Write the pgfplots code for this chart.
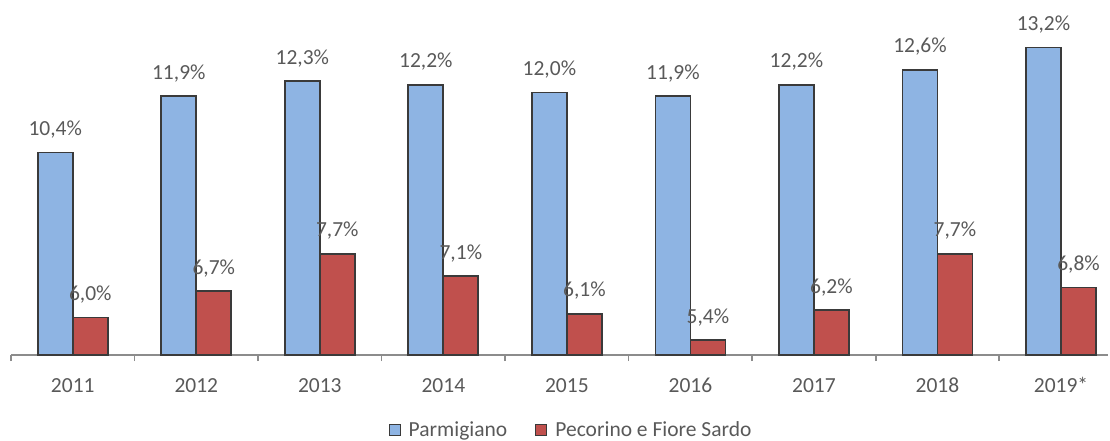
\documentclass[border=0pt]{standalone}
\usepackage{pgfplots}
\pgfplotsset{compat=1.18}
\usepackage{fontspec}
\setmainfont{Carlito}
\definecolor{pblue}{HTML}{8EB4E3}
\definecolor{pred}{HTML}{C0504D}
\definecolor{txt}{HTML}{595959}
\definecolor{brd}{HTML}{3A3A3A}
\definecolor{axc}{HTML}{8C8C8C}
\begin{document}
\begin{tikzpicture}
\begin{axis}[
  name=ax,
  scale only axis,
  width=1097bp, height=352.5bp,
  ybar=0pt, bar width=35bp,
  xmin=-0.5, xmax=8.38,
  ymin=5, ymax=14.4,
  clip=false,
  axis y line=none,
  axis x line*=bottom,
  x axis line style={draw=axc, line width=1.6bp, -},
  xtick={0,...,8},
  xticklabels={2011,2012,2013,2014,2015,2016,2017,2018,2019*},
  major x tick style={draw=none},
  minor xtick={-0.5,0.5,...,7.5},
  minor x tick style={draw=axc, line width=1.6bp},
  minor tick length=6bp,
  tick align=outside,
  xticklabel style={anchor=base, yshift=-33bp, font=\fontsize{21.5bp}{25bp}\selectfont, text=txt},
  /pgf/number format/assume math mode=true,
  nodes near coords={\pgfmathprintnumber[fixed,fixed zerofill,precision=1,use comma]{\pgfplotspointmeta}\%},
  every node near coord/.append style={anchor=base, yshift=17bp, font=\fontsize{21.5bp}{25bp}\selectfont, text=txt},
  legend style={draw=none, fill=none, at={(rel axis cs:0.5105,0)}, anchor=center, yshift=-75bp,
    font=\fontsize{21.5bp}{25bp}\selectfont, text=txt, legend columns=-1,
    /tikz/every odd column/.append style={column sep=6bp},
    /tikz/every even column/.append style={column sep=26bp}},
  legend image code/.code={\draw[#1, line width=1.2bp] (0bp,-5.5bp) rectangle (11bp,5.5bp);},
]
\addplot[fill=pblue, draw=brd, line width=1.8bp] coordinates {(0,10.4) (1,11.9) (2,12.3) (3,12.2) (4,12.0) (5,11.9) (6,12.2) (7,12.6) (8,13.2)};
\addplot[fill=pred, draw=brd, line width=1.8bp] coordinates {(0,6.0) (1,6.7) (2,7.7) (3,7.1) (4,6.1) (5,5.4) (6,6.2) (7,7.7) (8,6.8)};
\legend{Parmigiano, Pecorino e Fiore Sardo}
\end{axis}
\pgfresetboundingbox
\path[use as bounding box] ([shift={(-11bp,-86bp)}]ax.south west) rectangle ([shift={(1099bp,355bp)}]ax.south west);
\end{tikzpicture}
\end{document}
